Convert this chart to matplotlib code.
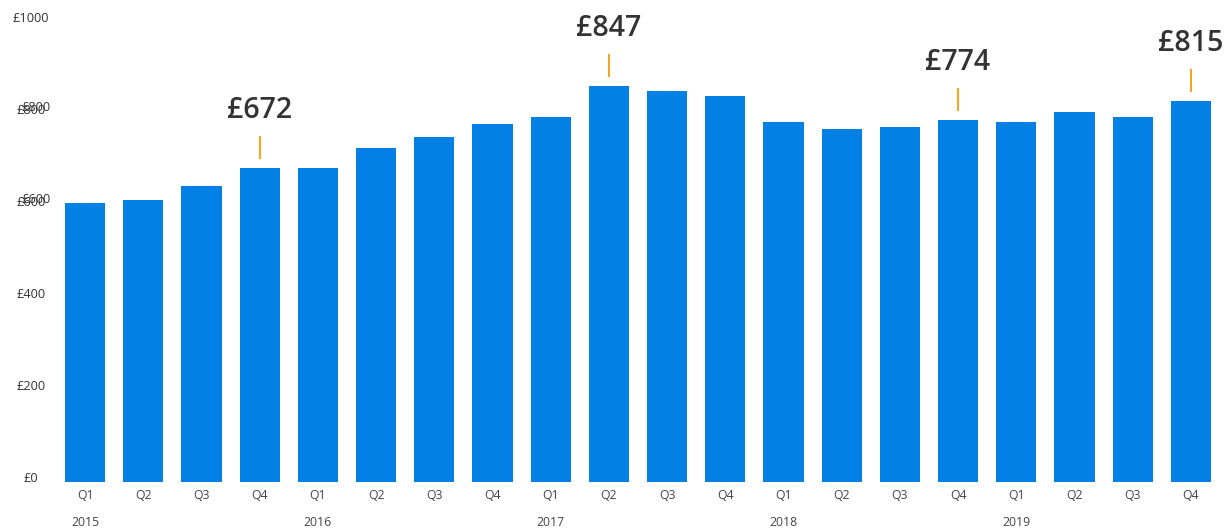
import matplotlib.pyplot as plt

plt.rcParams['font.family'] = ['Open Sans', 'DejaVu Sans']

quarters = ["Q1", "Q2", "Q3", "Q4"] * 5
years = ["2015", "2016", "2017", "2018", "2019"]
values = [596, 602, 632, 672,
          672, 715, 737, 766,
          781, 847, 835, 826,
          769, 754, 760, 774,
          769, 790, 781, 815]
highlight_idx = [3, 9, 15, 19]
ytick_vals = [0, 200, 400, 600, 800, 1000]

bar_color = "#0280e6"
mark_color = "#f5a623"
text_color = "#333333"

fig = plt.figure(figsize=(12.31, 5.28), dpi=100)
ax = fig.add_axes([0.0455, 0.087, 0.9455, 0.886])

x = list(range(len(values)))
ax.bar(x, values, width=0.69, color=bar_color)
ax.set_xlim(-0.5, len(values) - 0.5)
ax.set_ylim(0, 1000)
ax.axis("off")

# pixels -> data units on y
k = 1000 / (0.886 * 528)

for i in highlight_idx:
    v = values[i]
    ax.plot([i, i], [v + 10 * k, v + 31 * k], color=mark_color, lw=1.5,
            clip_on=False)
    ax.text(i, v + 57 * k, "£{}".format(v), ha="center", va="center",
            fontsize=20.5, fontweight="semibold", color=text_color, clip_on=False)

# y labels (some are drawn twice, slightly offset, like the original)
xl = (31 - 56) / (0.9455 * 1231)
for yv in ytick_vals:
    ly = (4 + 0.46 * yv) * k
    ax.text(xl, ly, "£{}".format(yv), transform=ax.get_yaxis_transform(),
            ha="center", va="center", fontsize=9.2, color=text_color)
    if yv in (600, 800):
        ax.text(xl + 5 / (0.9455 * 1231), ly + 3 * k, "£{}".format(yv),
                transform=ax.get_yaxis_transform(),
                ha="center", va="center", fontsize=9.2, color=text_color)

for i, q in enumerate(quarters):
    ax.text(i, -13 * k, q, ha="center", va="center", fontsize=8.8,
            color="#444444", clip_on=False)
for j, yr in enumerate(years):
    ax.text(j * 4, -40 * k, yr, ha="center", va="center", fontsize=8.8,
            color="#444444", clip_on=False)

fig.savefig("out.png", dpi=100)
